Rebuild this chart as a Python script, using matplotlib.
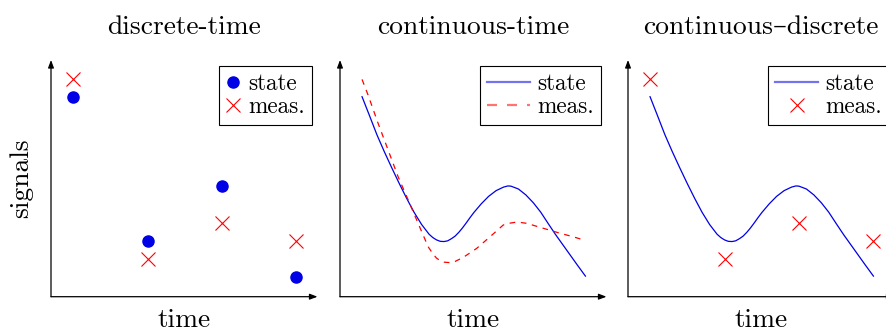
import matplotlib
matplotlib.use('Agg')
import matplotlib.pyplot as plt

plt.rcParams['font.family'] = ['cmr10', 'DejaVu Serif']
plt.rcParams['axes.unicode_minus'] = False

# sample instants for the discrete signals
t_disc = [0, 1, 2, 3]
state_disc = [0.845, 0.237, 0.468, 0.085]
meas_disc = [0.92, 0.158, 0.313, 0.237]

# continuous state
t_state = [0.0, 0.1, 0.2, 0.3, 0.4, 0.5, 0.6, 0.7, 0.8, 0.9, 0.95, 1.0, 1.05, 1.1,
           1.15, 1.2, 1.25, 1.3, 1.35, 1.4, 1.45, 1.5, 1.6, 1.7, 1.8, 1.9, 1.96, 2.0,
           2.1, 2.2, 2.3, 2.4, 2.5, 2.6, 2.7, 2.8, 2.9, 3.0]
state_cont = [0.845, 0.765, 0.684, 0.612, 0.544, 0.478, 0.415, 0.356, 0.305, 0.264,
              0.250, 0.240, 0.234, 0.233, 0.236, 0.245, 0.256, 0.272, 0.291, 0.312,
              0.334, 0.355, 0.392, 0.424, 0.448, 0.463, 0.468, 0.467, 0.455, 0.430,
              0.397, 0.357, 0.309, 0.262, 0.218, 0.174, 0.130, 0.087]

t_meas = [0, 0.081, 0.215, 0.35, 0.484, 0.619, 0.753, 0.888, 0.95, 1.0, 1.05, 1.1,
          1.18, 1.25, 1.359, 1.539, 1.718, 1.897, 1.97, 2.054, 2.13, 2.212, 2.435,
          2.66, 2.839, 3.0]
meas_cont = [0.918, 0.852, 0.733, 0.620, 0.507, 0.409, 0.310, 0.211, 0.182, 0.163,
             0.152, 0.146, 0.144, 0.149, 0.166, 0.204, 0.253, 0.303, 0.310, 0.314,
             0.3135, 0.310, 0.289, 0.268, 0.253, 0.237]

titles = ['discrete-time', 'continuous-time', 'continuous–discrete']

BLUE = '#0000e6'
RED = '#ff0000'
FS = 19.8
LFS = 16.7

fig = plt.figure(figsize=(8.87, 3.31), dpi=100)
W, H = 887.0, 331.0
lefts = [51, 340, 628]
axes = []
for left in lefts:
    ax = fig.add_axes([left / W, (H - 296.7) / H, 266.5 / W, 236.7 / H])
    ax.set_xlim(-0.296, 3.283)
    ax.set_ylim(0, 1)
    ax.set_xticks([])
    ax.set_yticks([])
    for s in ['top', 'right', 'left', 'bottom']:
        ax.spines[s].set_visible(False)
    # axis arrows
    ax.annotate('', xy=(1, 0), xytext=(0, 0), xycoords='axes fraction',
                arrowprops=dict(arrowstyle='-|>,head_length=0.45,head_width=0.17',
                                color='black', lw=0.9, shrinkA=0, shrinkB=0))
    ax.annotate('', xy=(0, 1), xytext=(0, 0), xycoords='axes fraction',
                arrowprops=dict(arrowstyle='-|>,head_length=0.45,head_width=0.17',
                                color='black', lw=0.9, shrinkA=0, shrinkB=0))
    ax.set_xlabel('time', fontsize=FS, labelpad=8)
    axes.append(ax)

for ax, title in zip(axes, titles):
    ax.set_title(title, fontsize=FS, pad=18.5)

axes[0].set_ylabel('signals', fontsize=FS, labelpad=13)

leg_kw = dict(loc='upper right', fontsize=LFS, fancybox=False, framealpha=1,
              edgecolor='black', borderaxespad=0.25, borderpad=0.3,
              labelspacing=0.05)

# discrete-time
ax = axes[0]
ax.plot(t_disc, state_disc, 'o', color=BLUE, markersize=8, label='state')
ax.plot(t_disc, meas_disc, 'x', color=RED, markersize=10, markeredgewidth=0.8, label='meas.')
leg = ax.legend(handlelength=0.6, handletextpad=0.35, **leg_kw)
leg.get_frame().set_linewidth(0.8)

# continuous-time
ax = axes[1]
ax.plot(t_state, state_cont, '-', color=BLUE, lw=0.9, label='state')
ax.plot(t_meas, meas_cont, '--', color=RED, lw=0.9, dashes=(4.5, 4.5), label='meas.')
leg = ax.legend(handlelength=1.85, handletextpad=0.3, **leg_kw)
leg.get_frame().set_linewidth(0.8)
for h in leg.get_lines():
    h.set_linewidth(1.6)
    h.set_alpha(0.55)

# continuous-discrete
ax = axes[2]
ax.plot(t_state, state_cont, '-', color=BLUE, lw=0.9, label='state')
ax.plot(t_disc, meas_disc, 'x', color=RED, markersize=10, markeredgewidth=0.8,
        linestyle='none', label='meas.')
leg = ax.legend(handlelength=1.85, handletextpad=0.3, **leg_kw)
leg.get_frame().set_linewidth(0.8)
leg.get_lines()[0].set_linewidth(1.6)
leg.get_lines()[0].set_alpha(0.55)

fig.savefig('out.png', dpi=100)
